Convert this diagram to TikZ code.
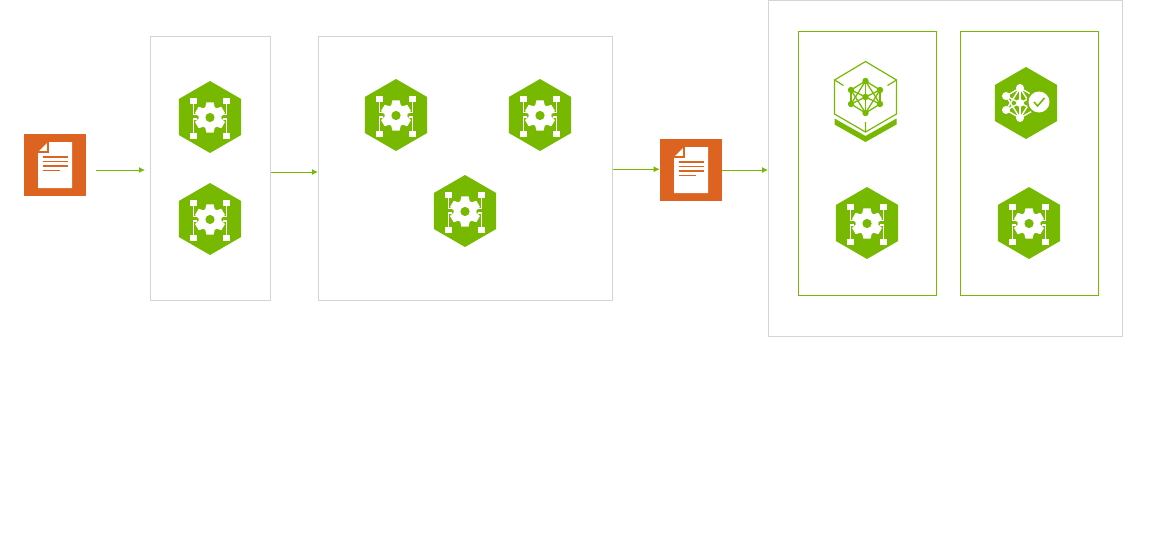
\documentclass[tikz,border=0pt]{standalone}
\usetikzlibrary{arrows.meta,shapes.geometric}

\definecolor{nvgreen}{HTML}{76B900}
\definecolor{docorange}{HTML}{DD6420}
\definecolor{boxgray}{HTML}{D4D4D4}

\newcommand{\px}{0.75pt}

\tikzset{
  x=\px, y=-\px,
  panel/.style={rectangle, draw=boxgray, line width=\px, inner sep=0pt},
  subpanel/.style={rectangle, draw=nvgreen, line width=\px, inner sep=0pt},
  hexicon/.style={regular polygon, regular polygon sides=6, shape border rotate=30,
    fill=nvgreen, inner sep=0pt, minimum size=72*\px},
  docicon/.style={rectangle, fill=docorange, inner sep=0pt, minimum size=62*\px},
  flow/.style={draw=nvgreen, line width=\px, -{Latex[length=6*\px,width=6*\px]}},
  gearmark/.pic={
    \fill[white] (0,0.5) circle (11.5);
    \foreach \a in {0,60,...,300}
      \fill[white,shift={(0,0.5)},rotate=\a] (-5,-9) -- (-3.6,-15.2) -- (3.6,-15.2) -- (5,-9) -- cycle;
    \fill[nvgreen] (0,0.5) circle (4.6);
    \foreach \sx in {-1,1} {
      \draw[white,line width=1.2*\px] (\sx*16.5,-14) -- (\sx*16.5,-2.5) -- (\sx*13,-2.5);
      \draw[white,line width=1.2*\px] (\sx*16.5,16) -- (\sx*16.5,2) -- (\sx*13,2);
      \fill[white] (\sx*16.5-3.4,-19.3) rectangle (\sx*16.5+3.4,-13.3);
      \fill[white] (\sx*16.5-3.4,15.7) rectangle (\sx*16.5+3.4,22);
    }
  },
  pagemark/.pic={
    \fill[white] (-17,-13) -- (-7,-23) -- (17,-23) -- (17,23) -- (-17,23) -- cycle;
    \fill[white] (-15.5,-13) -- (-8.5,-20) -- (-8.5,-13) -- cycle;
    \draw[docorange,line width=1.1*\px] (-7,-23) -- (-7,-13) -- (-17,-13);
    \foreach \ly in {-8,-3.5,1}
      \draw[docorange,line width=1.5*\px] (-12,\ly) -- (13,\ly);
    \draw[docorange,line width=1.5*\px] (-12,5.5) -- (5,5.5);
  }
}

\begin{document}
\begin{tikzpicture}
  \useasboundingbox (0,0) rectangle (1167,560);

  % panels
  \node (prepBox) [panel, minimum width=120*\px, minimum height=263.5*\px] at (210.5,168.75) {};
  \node (tuneBox) [panel, minimum width=294*\px, minimum height=263.5*\px] at (465.5,168.75) {};
  \node (deployBox) [panel, minimum width=354*\px, minimum height=336*\px] at (945.5,168.5) {};
  \node (trainBox) [subpanel, minimum width=138*\px, minimum height=264*\px] at (867.5,163.5) {};
  \node (checkBox) [subpanel, minimum width=138*\px, minimum height=264*\px] at (1029.5,163.5) {};

  % documents
  \node (srcDoc) [docicon] at (55,165) {};
  \node (outDoc) [docicon] at (691,170) {};
  \foreach \n in {srcDoc,outDoc}
    \pic at (\n) {pagemark};

  % gear hexagons
  \node (gearA) [hexicon] at (210,117) {};
  \node (gearB) [hexicon] at (210,219) {};
  \node (gearC) [hexicon] at (396,115) {};
  \node (gearD) [hexicon] at (540,115) {};
  \node (gearE) [hexicon] at (465,211) {};
  \node (gearF) [hexicon] at (867,223) {};
  \node (gearG) [hexicon] at (1029,223) {};
  \foreach \n in {gearA,gearB,gearC,gearD,gearE,gearF,gearG}
    \pic at (\n) {gearmark};

  % outlined network icon
  \coordinate (netMid) at (865.5,97);
  \begin{scope}[shift={(netMid)}]
    \draw[nvgreen,line width=1.2*\px,line join=miter] (-31,-17) -- (0,-35.5) -- (31,-17) -- (31,17) -- (0,35) -- (-31,17) -- cycle;
    \draw[nvgreen,line width=1.2*\px] (-31,-17) -- (-22,-11.5) (31,-17) -- (22,-11.5) (0,35) -- (0,25);
    \fill[nvgreen] (-31,21.5) -- (0,39) -- (31,21.5) -- (31,27.5) -- (0,45) -- (-31,27.5) -- cycle;
    \foreach \ax/\ay in {0/-16,0/16,-14.5/-7,-14.5/7,14.5/-7,14.5/7}
      \draw[nvgreen,line width=1.3*\px] (0,0) -- (\ax,\ay);
    \foreach \ax/\ay/\bx/\by in {0/-16/-14.5/-7,0/-16/14.5/-7,0/-16/-14.5/7,0/-16/14.5/7,0/16/-14.5/7,0/16/14.5/7,0/16/-14.5/-7,0/16/14.5/-7,0/-16/0/16,-14.5/-7/-14.5/7,14.5/-7/14.5/7}
      \draw[nvgreen,line width=1.3*\px] (\ax,\ay) -- (\bx,\by);
    \foreach \ax/\ay in {0/-16,0/0,0/16,-14.5/-7,-14.5/7,14.5/-7,14.5/7}
      \fill[nvgreen] (\ax,\ay) circle (3.2);
  \end{scope}

  % filled network icon with check
  \node (netCheck) [hexicon] at (1026,103) {};
  \begin{scope}[shift={(netCheck)}]
    \foreach \ax/\ay/\bx/\by in {-6/-15/-20/-7,-6/-15/-20/7,-6/0/-20/-7,-6/0/-20/7,-6/15/-20/-7,-6/15/-20/7,-6/-15/-6/15,-6/-15/8/-7,-6/-15/8/7,-6/15/8/-7,-6/15/8/7,-6/0/8/-7,-6/0/8/7}
      \draw[white,line width=1.4*\px] (\ax,\ay) -- (\bx,\by);
    \foreach \ax/\ay in {-6/-15,-6/0,-6/15,-20/-7,-20/7}
      \fill[white] (\ax,\ay) circle (4);
    \fill[nvgreen] (13,-1) circle (12.5);
    \fill[white] (13,-1) circle (10.5);
    \draw[nvgreen,line width=1.6*\px] (8,-1) -- (11.5,3) -- (18.5,-5);
  \end{scope}

  % connectors
  \coordinate (srcOut) at (96,170);
  \coordinate (prepIn) at (145,170);
  \draw[flow] (srcOut) -- (prepIn);
  \draw[flow] ([yshift=-3.25*\px]prepBox.east) -- ([yshift=-3.25*\px]tuneBox.west);
  \draw[flow] ([yshift=-0.5*\px]tuneBox.east) -- ([yshift=-0.5*\px]tuneBox.east -| outDoc.west);
  \draw[flow] (outDoc.east) -- ([yshift=-1.5*\px]deployBox.west);
\end{tikzpicture}
\end{document}
